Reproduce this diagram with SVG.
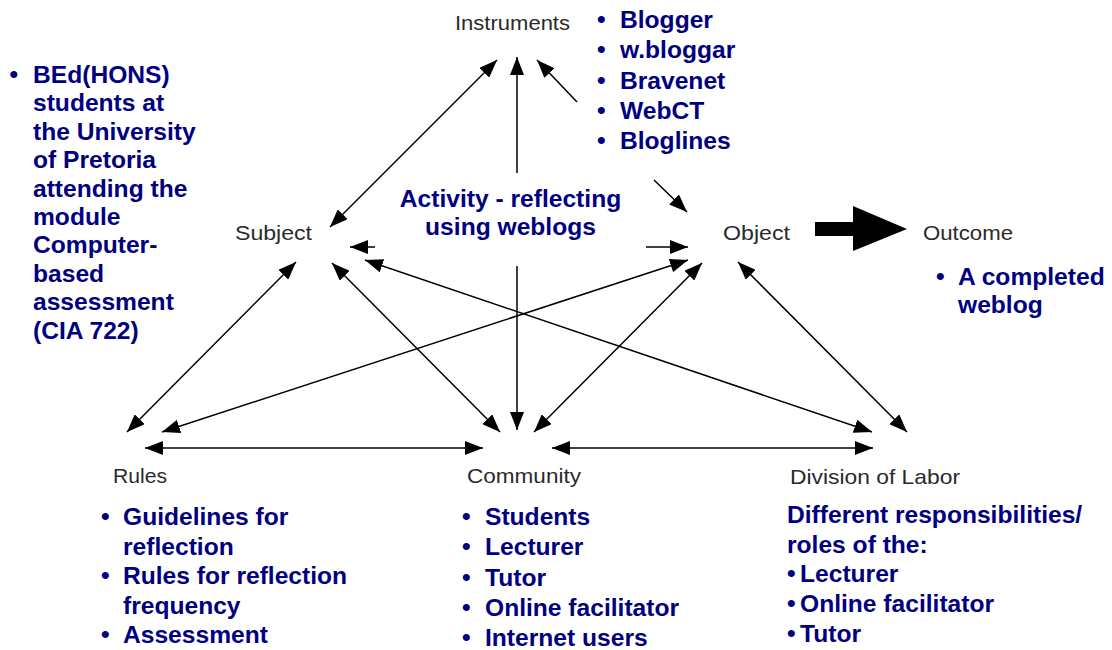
<svg xmlns="http://www.w3.org/2000/svg" width="1112" height="650" viewBox="0 0 1112 650">
  <style>
    .lbl { font-family: "Liberation Sans", Arial, sans-serif; font-size: 21px; fill: #2a2a2a; }
    .blue { font-family: "Liberation Sans", Arial, sans-serif; font-size: 24.6px; font-weight: bold; fill: #000080; }
    .mid { text-anchor: middle; }
    .conn { stroke: #000; stroke-width: 1.5; fill: none; }
    .both { marker-start: url(#head); marker-end: url(#head); }
    .end { marker-end: url(#head); }
  </style>
  <defs>
    <marker id="head" markerUnits="userSpaceOnUse" markerWidth="20" markerHeight="14" refX="18" refY="7" orient="auto-start-reverse">
      <path d="M0,0 L18,7 L0,14 Z" fill="#000"/>
    </marker>
  </defs>
  <rect width="1112" height="650" fill="#fff"/>

  <!-- connectors -->
  <g id="connectors">
    <!-- Subject <-> Instruments -->
    <line class="conn both" x1="330" y1="227" x2="497" y2="60"/>
    <!-- Activity -> Instruments -->
    <line class="conn end" x1="517" y1="173" x2="517" y2="57"/>
    <!-- Instruments <-> Object (interrupted by the tool list) -->
    <line class="conn end" x1="577" y1="102" x2="537" y2="60"/>
    <line class="conn end" x1="654" y1="180" x2="687" y2="212"/>
    <!-- Subject <-> Object (interrupted by the activity label) -->
    <line class="conn end" x1="375" y1="247" x2="350" y2="247"/>
    <line class="conn end" x1="646" y1="247" x2="688" y2="247"/>
    <!-- Activity -> Community -->
    <line class="conn end" x1="517" y1="266" x2="517" y2="430"/>
    <!-- Subject <-> Rules / Community / Division of Labor -->
    <line class="conn both" x1="296" y1="262" x2="127" y2="432"/>
    <line class="conn both" x1="332" y1="263" x2="500" y2="432"/>
    <line class="conn both" x1="365" y1="260" x2="872" y2="432"/>
    <!-- Object <-> Rules / Community / Division of Labor -->
    <line class="conn both" x1="688" y1="260" x2="162" y2="432"/>
    <line class="conn both" x1="702" y1="263" x2="534" y2="432"/>
    <line class="conn both" x1="738" y1="262" x2="907" y2="432"/>
    <!-- bottom row -->
    <line class="conn both" x1="145" y1="448" x2="483" y2="448"/>
    <line class="conn both" x1="552" y1="448" x2="873" y2="448"/>
    <!-- Object => Outcome -->
    <polygon points="815,222 853,222 853,206 907,229 853,251 853,236 815,236" fill="#000"/>
  </g>

  <g id="node-instruments">
    <text class="lbl" x="455" y="30" textLength="115" lengthAdjust="spacingAndGlyphs">Instruments</text>
    <text class="blue" x="597" y="28">•</text><text class="blue" x="620" y="28">Blogger</text>
    <text class="blue" x="597" y="58.3">•</text><text class="blue" x="620" y="58.3">w.bloggar</text>
    <text class="blue" x="597" y="88.6">•</text><text class="blue" x="620" y="88.6">Bravenet</text>
    <text class="blue" x="597" y="119">•</text><text class="blue" x="620" y="119">WebCT</text>
    <text class="blue" x="597" y="149">•</text><text class="blue" x="620" y="149">Bloglines</text>
  </g>

  <g id="node-subject">
    <text class="lbl" x="235" y="240" textLength="77" lengthAdjust="spacingAndGlyphs">Subject</text>
    <text class="blue" x="9.5" y="83">•</text>
    <text class="blue" x="33" y="83">BEd(HONS)</text>
    <text class="blue" x="33" y="111.4">students at</text>
    <text class="blue" x="33" y="139.8">the University</text>
    <text class="blue" x="33" y="168.2">of Pretoria</text>
    <text class="blue" x="33" y="196.6">attending the</text>
    <text class="blue" x="33" y="225">module</text>
    <text class="blue" x="33" y="253.4">Computer-</text>
    <text class="blue" x="33" y="281.8">based</text>
    <text class="blue" x="33" y="310.2">assessment</text>
    <text class="blue" x="33" y="338.6">(CIA 722)</text>
  </g>

  <g id="node-activity">
    <text class="blue mid" x="510.5" y="207">Activity - reflecting</text>
    <text class="blue mid" x="510.5" y="235">using weblogs</text>
  </g>

  <g id="node-object">
    <text class="lbl" x="723" y="240" textLength="67" lengthAdjust="spacingAndGlyphs">Object</text>
  </g>

  <g id="node-outcome">
    <text class="lbl" x="923" y="240" textLength="90" lengthAdjust="spacingAndGlyphs">Outcome</text>
    <text class="blue" x="936" y="285">•</text>
    <text class="blue" x="958" y="285">A completed</text>
    <text class="blue" x="958" y="313">weblog</text>
  </g>

  <g id="node-rules">
    <text class="lbl" x="113" y="483" textLength="54" lengthAdjust="spacingAndGlyphs">Rules</text>
    <text class="blue" x="101" y="525">•</text>
    <text class="blue" x="123" y="525">Guidelines for</text>
    <text class="blue" x="123" y="554.5">reflection</text>
    <text class="blue" x="101" y="584">•</text>
    <text class="blue" x="123" y="584">Rules for reflection</text>
    <text class="blue" x="123" y="613.5">frequency</text>
    <text class="blue" x="101" y="643">•</text>
    <text class="blue" x="123" y="643">Assessment</text>
  </g>

  <g id="node-community">
    <text class="lbl" x="467" y="483" textLength="114" lengthAdjust="spacingAndGlyphs">Community</text>
    <text class="blue" x="462" y="525">•</text><text class="blue" x="485" y="525">Students</text>
    <text class="blue" x="462" y="555.3">•</text><text class="blue" x="485" y="555.3">Lecturer</text>
    <text class="blue" x="462" y="585.5">•</text><text class="blue" x="485" y="585.5">Tutor</text>
    <text class="blue" x="462" y="615.8">•</text><text class="blue" x="485" y="615.8">Online facilitator</text>
    <text class="blue" x="462" y="646">•</text><text class="blue" x="485" y="646">Internet users</text>
  </g>

  <g id="node-division">
    <text class="lbl" x="790" y="484" textLength="170" lengthAdjust="spacingAndGlyphs">Division of Labor</text>
    <text class="blue" x="787" y="523">Different responsibilities/</text>
    <text class="blue" x="787" y="552.5">roles of the:</text>
    <text class="blue" x="787" y="582">•</text><text class="blue" x="800" y="582">Lecturer</text>
    <text class="blue" x="787" y="612">•</text><text class="blue" x="800" y="612">Online facilitator</text>
    <text class="blue" x="787" y="642">•</text><text class="blue" x="800" y="642">Tutor</text>
  </g>
</svg>
